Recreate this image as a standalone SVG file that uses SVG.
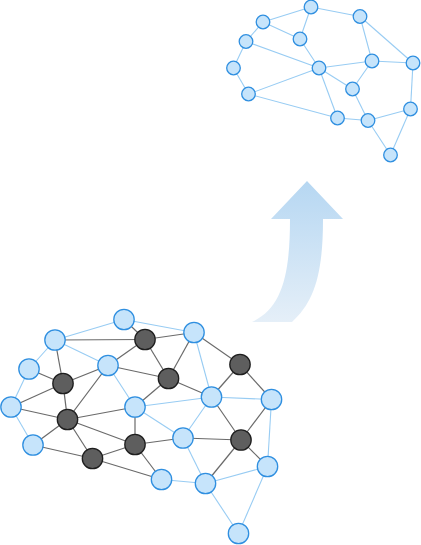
<svg xmlns="http://www.w3.org/2000/svg" width="421" height="545" viewBox="0 0 421 545">
<defs>
<linearGradient id="ag" x1="0" y1="181" x2="0" y2="322" gradientUnits="userSpaceOnUse">
<stop offset="0" stop-color="#b6d7f2"/>
<stop offset="1" stop-color="#e5eff8"/>
</linearGradient>
<style>
.lb{stroke:#98ccf3;stroke-width:1.1;fill:none}
.dk{stroke:#6a6a6a;stroke-width:1.2;fill:none}
.bn{fill:#c6e4fb;stroke:#2f8fe0;stroke-width:1.3}
.dn{fill:#5e5e5e;stroke:#1e1e1e;stroke-width:1.3}
</style>
</defs>
<rect width="421" height="545" fill="#ffffff"/>
<path id="arrow" d="M290 219 C290 275 282 308 252 322 L292 322 C314 302 323 275 323 219 L343 219 L307 181 L271 219 Z" fill="url(#ag)"/>
<g id="top-connectors" class="lb">
<line x1="311" y1="7" x2="263" y2="22"/>
<line x1="311" y1="7" x2="360" y2="16.5"/>
<line x1="311" y1="7" x2="300" y2="39"/>
<line x1="263" y1="22" x2="246" y2="41.5"/>
<line x1="263" y1="22" x2="300" y2="39"/>
<line x1="246" y1="41.5" x2="233.5" y2="68"/>
<line x1="246" y1="41.5" x2="319" y2="68"/>
<line x1="300" y1="39" x2="319" y2="68"/>
<line x1="233.5" y1="68" x2="248.5" y2="94"/>
<line x1="248.5" y1="94" x2="319" y2="68"/>
<line x1="248.5" y1="94" x2="337.5" y2="118"/>
<line x1="319" y1="68" x2="372" y2="61"/>
<line x1="319" y1="68" x2="352.5" y2="89"/>
<line x1="319" y1="68" x2="337.5" y2="118"/>
<line x1="360" y1="16.5" x2="372" y2="61"/>
<line x1="360" y1="16.5" x2="413" y2="63"/>
<line x1="372" y1="61" x2="413" y2="63"/>
<line x1="372" y1="61" x2="352.5" y2="89"/>
<line x1="352.5" y1="89" x2="368" y2="120.5"/>
<line x1="337.5" y1="118" x2="368" y2="120.5"/>
<line x1="368" y1="120.5" x2="410.5" y2="109"/>
<line x1="413" y1="63" x2="410.5" y2="109"/>
<line x1="410.5" y1="109" x2="390.5" y2="155"/>
<line x1="368" y1="120.5" x2="390.5" y2="155"/>
</g>
<g id="top-nodes" class="bn">
<circle id="t1" cx="311" cy="7" r="6.8"/>
<circle id="t2" cx="360" cy="16.5" r="6.8"/>
<circle id="t3" cx="263" cy="22" r="6.8"/>
<circle id="t4" cx="300" cy="39" r="6.8"/>
<circle id="t5" cx="246" cy="41.5" r="6.8"/>
<circle id="t6" cx="233.5" cy="68" r="6.8"/>
<circle id="t7" cx="319" cy="68" r="6.8"/>
<circle id="t8" cx="372" cy="61" r="6.8"/>
<circle id="t9" cx="413" cy="63" r="6.8"/>
<circle id="t10" cx="352.5" cy="89" r="6.8"/>
<circle id="t11" cx="248.5" cy="94" r="6.8"/>
<circle id="t12" cx="337.5" cy="118" r="6.8"/>
<circle id="t13" cx="368" cy="120.5" r="6.8"/>
<circle id="t14" cx="410.5" cy="109" r="6.8"/>
<circle id="t15" cx="390.5" cy="155" r="6.8"/>
</g>
<g id="bottom-connectors">
<g class="lb">
<line x1="55" y1="340" x2="124" y2="319.5"/>
<line x1="124" y1="319.5" x2="194" y2="332.5"/>
<line x1="55" y1="340" x2="29" y2="369"/>
<line x1="55" y1="340" x2="108" y2="365.5"/>
<line x1="29" y1="369" x2="11" y2="407"/>
<line x1="11" y1="407" x2="33" y2="445"/>
<line x1="108" y1="365.5" x2="135" y2="407"/>
<line x1="135" y1="407" x2="211.5" y2="397"/>
<line x1="135" y1="407" x2="183" y2="438"/>
<line x1="194" y1="332.5" x2="211.5" y2="397"/>
<line x1="211.5" y1="397" x2="271.5" y2="399.5"/>
<line x1="211.5" y1="397" x2="183" y2="438"/>
<line x1="183" y1="438" x2="205.5" y2="483.5"/>
<line x1="161.5" y1="479.5" x2="205.5" y2="483.5"/>
<line x1="205.5" y1="483.5" x2="267.5" y2="466.5"/>
<line x1="271.5" y1="399.5" x2="267.5" y2="466.5"/>
<line x1="205.5" y1="483.5" x2="238.5" y2="533.5"/>
<line x1="267.5" y1="466.5" x2="238.5" y2="533.5"/>
</g>
<g class="dk">
<line x1="124" y1="319.5" x2="145" y2="339.5"/>
<line x1="55" y1="340" x2="145" y2="339.5"/>
<line x1="145" y1="339.5" x2="194" y2="332.5"/>
<line x1="145" y1="339.5" x2="108" y2="365.5"/>
<line x1="145" y1="339.5" x2="168.5" y2="378.5"/>
<line x1="194" y1="332.5" x2="168.5" y2="378.5"/>
<line x1="55" y1="340" x2="63" y2="383.5"/>
<line x1="29" y1="369" x2="63" y2="383.5"/>
<line x1="63" y1="383.5" x2="108" y2="365.5"/>
<line x1="63" y1="383.5" x2="11" y2="407"/>
<line x1="63" y1="383.5" x2="67.5" y2="419.5"/>
<line x1="108" y1="365.5" x2="67.5" y2="419.5"/>
<line x1="108" y1="365.5" x2="168.5" y2="378.5"/>
<line x1="168.5" y1="378.5" x2="211.5" y2="397"/>
<line x1="168.5" y1="378.5" x2="135" y2="407"/>
<line x1="67.5" y1="419.5" x2="11" y2="407"/>
<line x1="67.5" y1="419.5" x2="135" y2="407"/>
<line x1="67.5" y1="419.5" x2="33" y2="445"/>
<line x1="67.5" y1="419.5" x2="135" y2="444.5"/>
<line x1="67.5" y1="419.5" x2="92.5" y2="458.5"/>
<line x1="33" y1="445" x2="92.5" y2="458.5"/>
<line x1="92.5" y1="458.5" x2="135" y2="444.5"/>
<line x1="92.5" y1="458.5" x2="161.5" y2="479.5"/>
<line x1="135" y1="407" x2="135" y2="444.5"/>
<line x1="135" y1="444.5" x2="183" y2="438"/>
<line x1="135" y1="444.5" x2="161.5" y2="479.5"/>
<line x1="194" y1="332.5" x2="240" y2="364.5"/>
<line x1="240" y1="364.5" x2="211.5" y2="397"/>
<line x1="240" y1="364.5" x2="271.5" y2="399.5"/>
<line x1="211.5" y1="397" x2="241" y2="440"/>
<line x1="183" y1="438" x2="241" y2="440"/>
<line x1="271.5" y1="399.5" x2="241" y2="440"/>
<line x1="241" y1="440" x2="205.5" y2="483.5"/>
<line x1="241" y1="440" x2="267.5" y2="466.5"/>
</g>
</g>
<g id="bottom-nodes">
<g id="n-b1"><circle class="bn" cx="124" cy="319.5" r="10.2"/></g>
<g id="n-b2"><circle class="bn" cx="55" cy="340" r="10.2"/></g>
<g id="n-b3"><circle class="bn" cx="194" cy="332.5" r="10.2"/></g>
<g id="n-b4"><circle class="bn" cx="29" cy="369" r="10.2"/></g>
<g id="n-b5"><circle class="bn" cx="108" cy="365.5" r="10.2"/></g>
<g id="n-b6"><circle class="bn" cx="11" cy="407" r="10.2"/></g>
<g id="n-b7"><circle class="bn" cx="135" cy="407" r="10.2"/></g>
<g id="n-b8"><circle class="bn" cx="33" cy="445" r="10.2"/></g>
<g id="n-b9"><circle class="bn" cx="183" cy="438" r="10.2"/></g>
<g id="n-b10"><circle class="bn" cx="161.5" cy="479.5" r="10.2"/></g>
<g id="n-b11"><circle class="bn" cx="211.5" cy="397" r="10.2"/></g>
<g id="n-b12"><circle class="bn" cx="271.5" cy="399.5" r="10.2"/></g>
<g id="n-b13"><circle class="bn" cx="267.5" cy="466.5" r="10.2"/></g>
<g id="n-b14"><circle class="bn" cx="205.5" cy="483.5" r="10.2"/></g>
<g id="n-b15"><circle class="bn" cx="238.5" cy="533.5" r="10.2"/></g>
<g id="n-d1"><circle class="dn" cx="145" cy="339.5" r="10.2"/></g>
<g id="n-d2"><circle class="dn" cx="63" cy="383.5" r="10.2"/></g>
<g id="n-d3"><circle class="dn" cx="168.5" cy="378.5" r="10.2"/></g>
<g id="n-d4"><circle class="dn" cx="67.5" cy="419.5" r="10.2"/></g>
<g id="n-d5"><circle class="dn" cx="135" cy="444.5" r="10.2"/></g>
<g id="n-d6"><circle class="dn" cx="92.5" cy="458.5" r="10.2"/></g>
<g id="n-d7"><circle class="dn" cx="240" cy="364.5" r="10.2"/></g>
<g id="n-d8"><circle class="dn" cx="241" cy="440" r="10.2"/></g>
</g>
</svg>
